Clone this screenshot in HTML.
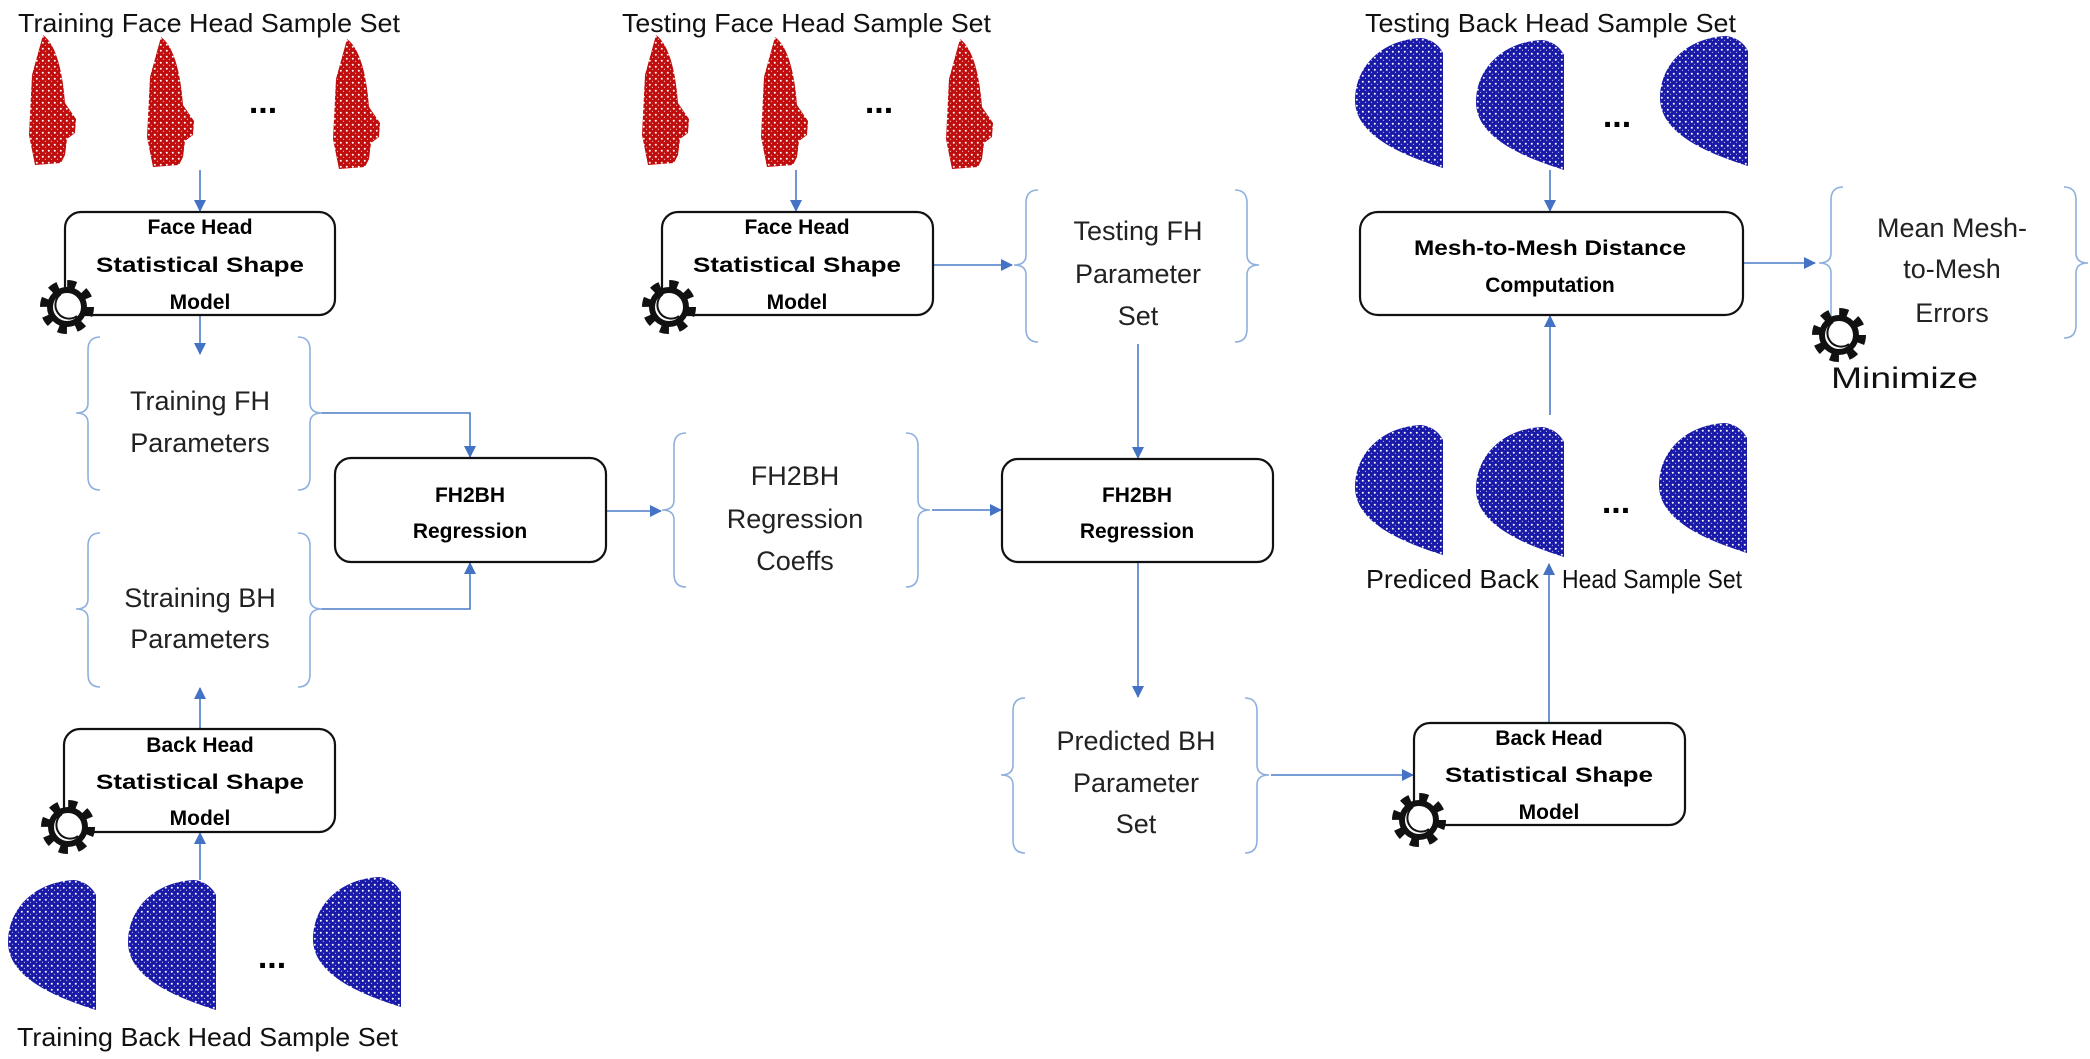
<!DOCTYPE html>
<html><head><meta charset="utf-8"><style>
html,body{margin:0;padding:0;background:#fff;}
svg{display:block;}
text{font-family:"Liberation Sans",sans-serif;}
.t{font-size:26px;fill:#111;}
.b{font-size:21px;font-weight:bold;fill:#000;text-anchor:middle;}
.p{font-size:27px;fill:#222;text-anchor:middle;}
.box{fill:#fff;stroke:#111;stroke-width:2.2;}
.ln{stroke:#4a7cc7;stroke-width:1.6;fill:none;}
.br{stroke:#8fb0dd;stroke-width:1.6;fill:none;}
.dots{font-size:34px;font-weight:bold;text-anchor:middle;}
</style></head><body>
<svg width="2090" height="1059" viewBox="0 0 2090 1059" xmlns="http://www.w3.org/2000/svg">
<defs>
<pattern id="rp" width="6" height="6" patternUnits="userSpaceOnUse">
<rect width="6" height="6" fill="#c00d0d"/><circle cx="1.8" cy="1.8" r="1" fill="#fff"/><circle cx="4.5" cy="4.3" r="0.6" fill="#f3d0d0"/></pattern>
<pattern id="bp" width="6" height="6" patternUnits="userSpaceOnUse">
<rect width="6" height="6" fill="#1a1aa8"/><circle cx="1.8" cy="1.8" r="1" fill="#fff"/><circle cx="4.5" cy="4.3" r="0.6" fill="#c8c8ee"/></pattern>
<marker id="ah" markerWidth="12" markerHeight="12" refX="11" refY="6" orient="auto" markerUnits="userSpaceOnUse"><path d="M0,0 L12,6 L0,12 Z" fill="#4472c4"/></marker>
<path id="face" d="M14,0 C28,10 34,40 36,68 L47,84 L46,98 L38,104 L36,120 L32,128 L6,130 L0,100 L3,40 Z"/>
<path id="bh" d="M66,0 C25,2 0,30 0,62 C0,95 40,115 88,130 L88,15 C84,7 76,1 66,0 Z"/>
<g id="gear"><circle r="22" fill="none" stroke="#111" stroke-width="10" stroke-dasharray="8.3 8.98"/><circle r="17" fill="#fff" stroke="#111" stroke-width="6"/><path d="M-6,-13 A13,13 0 0,0 10,9" fill="none" stroke="#111" stroke-width="2"/></g>
</defs>

<text class="t" x="18" y="32" textLength="382" lengthAdjust="spacingAndGlyphs">Training Face Head Sample Set</text>
<text class="t" x="622" y="32" textLength="369" lengthAdjust="spacingAndGlyphs">Testing Face Head Sample Set</text>
<text class="t" x="1365" y="32" textLength="371" lengthAdjust="spacingAndGlyphs">Testing Back Head Sample Set</text>
<text class="t" x="17" y="1046" textLength="381" lengthAdjust="spacingAndGlyphs">Training Back Head Sample Set</text>
<text class="t" x="1366" y="588" textLength="173" lengthAdjust="spacingAndGlyphs">Prediced Back</text>
<text class="t" x="1562" y="588" textLength="180" lengthAdjust="spacingAndGlyphs">Head Sample Set</text>

<use href="#face" x="29" y="35" fill="url(#rp)"/>
<use href="#face" x="147" y="37" fill="url(#rp)"/>
<use href="#face" x="333" y="39" fill="url(#rp)"/>
<text class="dots" x="263" y="113">...</text>
<use href="#face" x="642" y="35" fill="url(#rp)"/>
<use href="#face" x="761" y="37" fill="url(#rp)"/>
<use href="#face" x="946" y="39" fill="url(#rp)"/>
<text class="dots" x="879" y="113">...</text>

<use href="#bh" x="1355" y="38" fill="url(#bp)"/>
<use href="#bh" x="1476" y="40" fill="url(#bp)"/>
<use href="#bh" x="1660" y="36" fill="url(#bp)"/>
<text class="dots" x="1617" y="127">...</text>
<use href="#bh" x="1355" y="425" fill="url(#bp)"/>
<use href="#bh" x="1476" y="427" fill="url(#bp)"/>
<use href="#bh" x="1659" y="423" fill="url(#bp)"/>
<text class="dots" x="1616" y="513">...</text>
<use href="#bh" x="8" y="880" fill="url(#bp)"/>
<use href="#bh" x="128" y="880" fill="url(#bp)"/>
<use href="#bh" x="313" y="877" fill="url(#bp)"/>
<text class="dots" x="272" y="968">...</text>

<line class="ln" x1="200" y1="170" x2="200" y2="211" marker-end="url(#ah)"/>
<line class="ln" x1="200" y1="315" x2="200" y2="354" marker-end="url(#ah)"/>
<path class="ln" d="M321,413 H470 V457" marker-end="url(#ah)"/>
<path class="ln" d="M321,609 H470 V563" marker-end="url(#ah)"/>
<line class="ln" x1="200" y1="729" x2="200" y2="688" marker-end="url(#ah)"/>
<line class="ln" x1="200" y1="880" x2="200" y2="833" marker-end="url(#ah)"/>
<line class="ln" x1="606" y1="511" x2="661" y2="511" marker-end="url(#ah)"/>
<line class="ln" x1="932" y1="510" x2="1001" y2="510" marker-end="url(#ah)"/>
<line class="ln" x1="796" y1="170" x2="796" y2="211" marker-end="url(#ah)"/>
<line class="ln" x1="933" y1="265" x2="1012" y2="265" marker-end="url(#ah)"/>
<line class="ln" x1="1138" y1="344" x2="1138" y2="458" marker-end="url(#ah)"/>
<line class="ln" x1="1138" y1="562" x2="1138" y2="697" marker-end="url(#ah)"/>
<line class="ln" x1="1271" y1="775" x2="1413" y2="775" marker-end="url(#ah)"/>
<line class="ln" x1="1549" y1="723" x2="1549" y2="564" marker-end="url(#ah)"/>
<line class="ln" x1="1550" y1="415" x2="1550" y2="316" marker-end="url(#ah)"/>
<line class="ln" x1="1550" y1="170" x2="1550" y2="211" marker-end="url(#ah)"/>
<line class="ln" x1="1743" y1="263" x2="1815" y2="263" marker-end="url(#ah)"/>

<g class="br">
<path d="M100,337 Q88,337 88,350 V403 Q88,413 76,413 Q88,413 88,423 V477 Q88,490 100,490"/>
<path d="M298,337 Q310,337 310,350 V403 Q310,413 322,413 Q310,413 310,423 V477 Q310,490 298,490"/>
<path d="M100,533 Q88,533 88,546 V599 Q88,609 76,609 Q88,609 88,619 V674 Q88,687 100,687"/>
<path d="M298,533 Q310,533 310,546 V599 Q310,609 322,609 Q310,609 310,619 V674 Q310,687 298,687"/>
<path d="M686,433 Q674,433 674,446 V500 Q674,510 662,510 Q674,510 674,520 V574 Q674,587 686,587"/>
<path d="M906,433 Q918,433 918,446 V500 Q918,510 930,510 Q918,510 918,520 V574 Q918,587 906,587"/>
<path d="M1038,190 Q1026,190 1026,203 V255 Q1026,265 1014,265 Q1026,265 1026,275 V329 Q1026,342 1038,342"/>
<path d="M1235,190 Q1247,190 1247,203 V255 Q1247,265 1259,265 Q1247,265 1247,275 V329 Q1247,342 1235,342"/>
<path d="M1025,698 Q1013,698 1013,711 V765 Q1013,775 1001,775 Q1013,775 1013,785 V840 Q1013,853 1025,853"/>
<path d="M1245,698 Q1257,698 1257,711 V765 Q1257,775 1269,775 Q1257,775 1257,785 V840 Q1257,853 1245,853"/>
<path d="M1843,187 Q1831,187 1831,200 V253 Q1831,263 1819,263 Q1831,263 1831,273 V325 Q1831,338 1843,338"/>
<path d="M2064,187 Q2076,187 2076,200 V253 Q2076,263 2088,263 Q2076,263 2076,273 V325 Q2076,338 2064,338"/>
</g>

<text class="p" x="200" y="410">Training FH</text>
<text class="p" x="200" y="452">Parameters</text>
<text class="p" x="200" y="607">Straining BH</text>
<text class="p" x="200" y="648">Parameters</text>
<text class="p" x="795" y="485">FH2BH</text>
<text class="p" x="795" y="528">Regression</text>
<text class="p" x="795" y="570">Coeffs</text>
<text class="p" x="1138" y="240">Testing FH</text>
<text class="p" x="1138" y="283">Parameter</text>
<text class="p" x="1138" y="325">Set</text>
<text class="p" x="1136" y="750">Predicted BH</text>
<text class="p" x="1136" y="792">Parameter</text>
<text class="p" x="1136" y="833">Set</text>
<text class="p" x="1952" y="237">Mean Mesh-</text>
<text class="p" x="1952" y="278">to-Mesh</text>
<text class="p" x="1952" y="322">Errors</text>
<text x="1831" y="388" font-size="30" fill="#111" textLength="147" lengthAdjust="spacingAndGlyphs">Minimize</text>

<rect class="box" x="65" y="212" width="270" height="103" rx="16"/>
<text class="b" x="200" y="234">Face Head</text>
<text class="b" x="200" y="272" textLength="208" lengthAdjust="spacingAndGlyphs">Statistical Shape</text>
<text class="b" x="200" y="309">Model</text>
<rect class="box" x="662" y="212" width="271" height="103" rx="16"/>
<text class="b" x="797" y="234">Face Head</text>
<text class="b" x="797" y="272" textLength="208" lengthAdjust="spacingAndGlyphs">Statistical Shape</text>
<text class="b" x="797" y="309">Model</text>
<rect class="box" x="335" y="458" width="271" height="104" rx="16"/>
<text class="b" x="470" y="502">FH2BH</text>
<text class="b" x="470" y="538">Regression</text>
<rect class="box" x="1002" y="459" width="271" height="103" rx="16"/>
<text class="b" x="1137" y="502">FH2BH</text>
<text class="b" x="1137" y="538">Regression</text>
<rect class="box" x="64" y="729" width="271" height="103" rx="16"/>
<text class="b" x="200" y="752">Back Head</text>
<text class="b" x="200" y="789" textLength="208" lengthAdjust="spacingAndGlyphs">Statistical Shape</text>
<text class="b" x="200" y="825">Model</text>
<rect class="box" x="1414" y="723" width="271" height="102" rx="16"/>
<text class="b" x="1549" y="745">Back Head</text>
<text class="b" x="1549" y="782" textLength="208" lengthAdjust="spacingAndGlyphs">Statistical Shape</text>
<text class="b" x="1549" y="819">Model</text>
<rect class="box" x="1360" y="212" width="383" height="103" rx="18"/>
<text class="b" x="1550" y="255" textLength="272" lengthAdjust="spacingAndGlyphs">Mesh-to-Mesh Distance</text>
<text class="b" x="1550" y="292">Computation</text>

<use href="#gear" x="67" y="307"/>
<use href="#gear" x="669" y="307"/>
<use href="#gear" x="68" y="827"/>
<use href="#gear" x="1419" y="820"/>
<use href="#gear" x="1839" y="335"/>
</svg>
</body></html>
